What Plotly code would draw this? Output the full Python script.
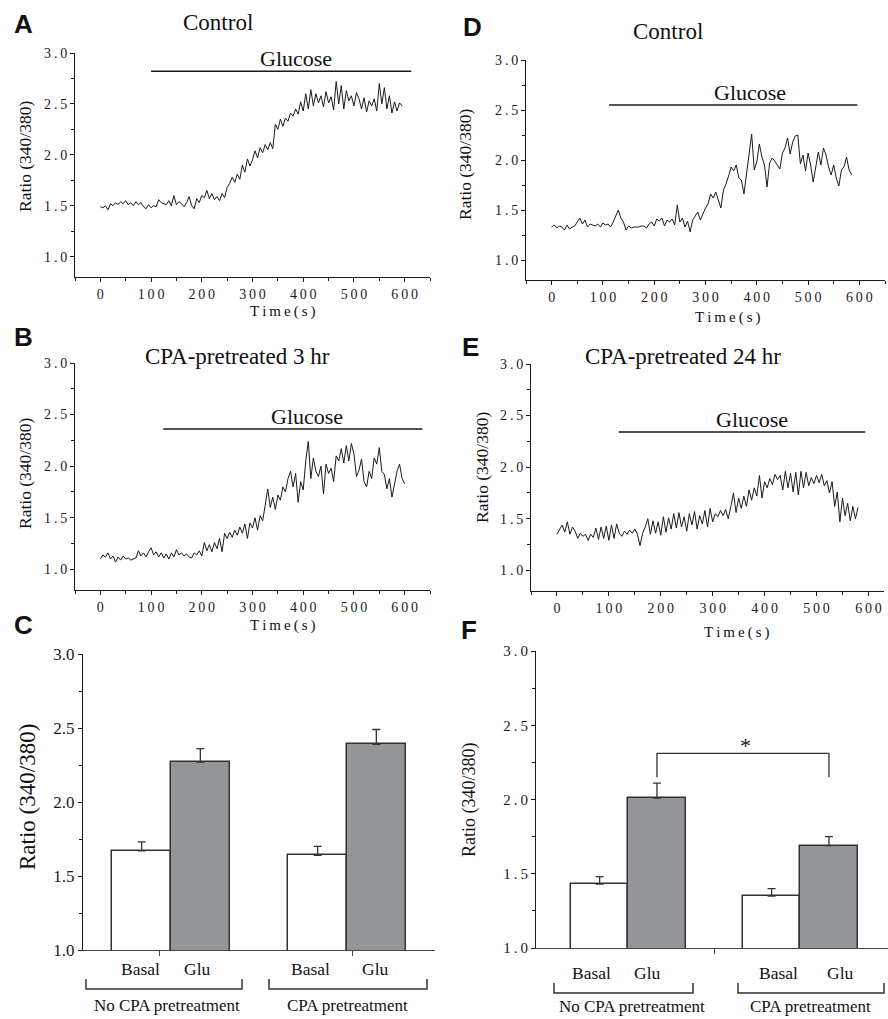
import plotly.graph_objects as go

W, H = 888, 1019

# ---------------- data ----------------
SAMPLE_STEP = 5  # seconds between plotted samples

ratio_A = [1.49, 1.48, 1.50, 1.46, 1.52, 1.50, 1.53, 1.51, 1.54, 1.52,
           1.55, 1.51, 1.53, 1.50, 1.54, 1.51, 1.53, 1.49, 1.47, 1.51,
           1.48, 1.50, 1.49, 1.56, 1.53, 1.52, 1.51, 1.55, 1.50, 1.60,
           1.51, 1.54, 1.52, 1.49, 1.53, 1.59, 1.50, 1.47, 1.57, 1.53,
           1.60, 1.58, 1.65, 1.57, 1.62, 1.56, 1.59, 1.55, 1.62, 1.58,
           1.68, 1.72, 1.78, 1.73, 1.81, 1.76, 1.90, 1.83, 1.96, 1.89,
           1.95, 2.04, 1.97, 2.07, 2.02, 2.10, 2.05, 2.12, 2.06, 2.30,
           2.25, 2.35, 2.28, 2.36, 2.33, 2.41, 2.38, 2.45, 2.40, 2.52,
           2.43, 2.60, 2.45, 2.64, 2.48, 2.60, 2.51, 2.58, 2.47, 2.62,
           2.51, 2.57, 2.44, 2.72, 2.50, 2.68, 2.45, 2.63, 2.53, 2.58,
           2.48, 2.61, 2.55, 2.45, 2.56, 2.42, 2.53, 2.48, 2.55, 2.43,
           2.70, 2.50, 2.66, 2.45, 2.58, 2.41, 2.52, 2.43, 2.51, 2.48]

ratio_B = [1.10, 1.14, 1.12, 1.16, 1.10, 1.13, 1.07, 1.12, 1.09, 1.13,
           1.10, 1.11, 1.09, 1.10, 1.11, 1.18, 1.13, 1.16, 1.12, 1.17,
           1.21, 1.14, 1.17, 1.12, 1.16, 1.11, 1.15, 1.10, 1.16, 1.12,
           1.19, 1.14, 1.16, 1.13, 1.15, 1.12, 1.11, 1.16, 1.14, 1.18,
           1.13, 1.26, 1.18, 1.24, 1.17, 1.26, 1.20, 1.30, 1.17, 1.35,
           1.30, 1.36, 1.31, 1.38, 1.33, 1.41, 1.35, 1.44, 1.30, 1.45,
           1.40, 1.50, 1.38, 1.52, 1.47, 1.62, 1.78, 1.60, 1.70, 1.58,
           1.72, 1.67, 1.80, 1.75, 1.88, 1.95, 1.80, 1.93, 1.65, 1.85,
           1.77, 2.05, 2.24, 1.88, 2.08, 1.95, 1.90, 2.00, 1.73, 2.02,
           1.93, 1.98, 1.85, 2.10, 2.05, 2.17, 2.03, 2.20, 2.05, 2.22,
           2.12, 1.90, 1.96, 2.07, 1.85, 1.80, 1.95, 1.88, 2.08, 2.02,
           2.18, 1.95, 1.92, 1.78, 1.88, 1.70, 1.82, 1.95, 2.02, 1.88,
           1.83]

ratio_D = [1.33, 1.35, 1.32, 1.34, 1.33, 1.30, 1.35, 1.31, 1.33, 1.34,
           1.38, 1.42, 1.36, 1.40, 1.33, 1.36, 1.35, 1.34, 1.36, 1.33,
           1.37, 1.35, 1.36, 1.33, 1.38, 1.44, 1.50, 1.42, 1.38, 1.30,
           1.34, 1.32, 1.33, 1.33, 1.33, 1.34, 1.34, 1.32, 1.36, 1.38,
           1.34, 1.41, 1.39, 1.42, 1.34, 1.40, 1.38, 1.41, 1.35, 1.55,
           1.38, 1.42, 1.33, 1.39, 1.28, 1.40, 1.44, 1.48, 1.40, 1.46,
           1.52, 1.56, 1.66, 1.62, 1.68, 1.60, 1.52, 1.70, 1.76, 1.84,
           1.93, 1.89, 1.95, 1.82, 1.80, 1.66, 1.85, 2.05, 2.26, 1.90,
           1.98, 2.16, 2.03, 1.95, 1.73, 1.97, 2.02, 1.99, 1.95, 1.91,
           2.07, 2.12, 2.22, 2.06, 2.18, 2.24, 2.25, 1.96, 2.05, 1.89,
           2.07, 1.95, 1.78, 1.95, 2.08, 1.95, 2.12, 2.05, 1.93, 1.85,
           1.95, 1.82, 1.74, 1.90, 1.93, 2.03, 1.90, 1.85]

ratio_E = [1.35, 1.40, 1.44, 1.37, 1.47, 1.35, 1.42, 1.38, 1.31, 1.36,
           1.33, 1.35, 1.29, 1.35, 1.32, 1.41, 1.30, 1.42, 1.31, 1.43,
           1.29, 1.44, 1.31, 1.45, 1.36, 1.33, 1.38, 1.35, 1.39, 1.36,
           1.40, 1.35, 1.24, 1.36, 1.42, 1.50, 1.35, 1.48, 1.36, 1.47,
           1.34, 1.52, 1.37, 1.51, 1.40, 1.55, 1.41, 1.56, 1.42, 1.52,
           1.38, 1.55, 1.44, 1.57, 1.40, 1.53, 1.45, 1.58, 1.42, 1.60,
           1.47, 1.55, 1.52, 1.58, 1.53, 1.59, 1.50, 1.62, 1.75, 1.56,
           1.70, 1.60, 1.72, 1.62, 1.78, 1.68, 1.80, 1.72, 1.92, 1.70,
           1.86, 1.80, 1.89, 1.83, 1.93, 1.88, 1.92, 1.78, 1.96, 1.80,
           1.94, 1.76, 1.95, 1.73, 1.96, 1.80, 1.95, 1.82, 1.90, 1.84,
           1.92, 1.85, 1.93, 1.82, 1.87, 1.75, 1.86, 1.62, 1.76, 1.47,
           1.70, 1.53, 1.65, 1.48, 1.62, 1.50, 1.61]

glucose_period = {"A": (100, 613), "B": (124, 635), "D": (112, 596), "E": (119, 594)}
glucose_bar_level = {"A": 2.82, "B": 2.36, "D": 2.55, "E": 2.34}

conditions = ["Basal", "Glu"]
groups = ["No CPA pretreatment", "CPA pretreatment"]
C_basal = [1.67, 1.64]
C_basal_err = [0.06, 0.06]
C_glu = [2.27, 2.39]
C_glu_err = [0.09, 0.10]
F_basal = [1.43, 1.35]
F_basal_err = [0.05, 0.05]
F_glu = [2.01, 1.69]
F_glu_err = [0.10, 0.06]

time_ticks = [0, 100, 200, 300, 400, 500, 600]
ratio_ticks = [1.0, 1.5, 2.0, 2.5, 3.0]

# ---------------- style helpers ----------------
INK = "#1a1a1a"
SERIF = "Liberation Serif, Times New Roman, serif"
SANS = "Liberation Sans, Arial, sans-serif"
TS = "\u2009"


def spaced(s):
    return TS.join(list(s))


def px(x):
    return x / W


def py(y):
    return 1 - y / H


def dom_x(a, b):
    return [px(a), px(b)]


def dom_y(top, bottom):
    return [py(bottom), py(top)]


fig = go.Figure()

# ---------------- line panels ----------------
line_panels = [
    ("A", ratio_A, "x", "y"),
    ("B", ratio_B, "x2", "y2"),
    ("D", ratio_D, "x4", "y4"),
    ("E", ratio_E, "x5", "y5"),
]
for key, vals, xa, ya in line_panels:
    t = [i * SAMPLE_STEP for i in range(len(vals))]
    fig.add_trace(go.Scatter(x=t, y=vals, mode="lines", xaxis=xa, yaxis=ya,
                             line=dict(color=INK, width=1), showlegend=False,
                             hoverinfo="skip"))
    t0, t1 = glucose_period[key]
    lvl = glucose_bar_level[key]
    fig.add_shape(type="line", xref=xa, yref=ya, x0=t0, x1=t1, y0=lvl, y1=lvl,
                  line=dict(color=INK, width=1.5))


def line_axes(xdom, ydom, anchor_y, anchor_x, xr):
    xa = dict(domain=xdom, range=xr, anchor=anchor_y, showline=True, linecolor=INK,
              linewidth=1, ticks="outside", ticklen=4, tickwidth=1, tickcolor=INK,
              tickmode="array", tickvals=time_ticks,
              ticktext=[spaced(str(v)) for v in time_ticks],
              minor=dict(tickmode="array", tickvals=[-50, 50, 150, 250, 350, 450, 550, 650],
                         ticks="outside", ticklen=3, tickcolor=INK),
              showgrid=False, zeroline=False, automargin=False,
              tickfont=dict(family=SERIF, size=14, color=INK), fixedrange=True)
    ya = dict(domain=ydom, range=[0.8, 3.0], anchor=anchor_x, showline=True, linecolor=INK,
              linewidth=1, ticks="outside", ticklen=4, tickwidth=1, tickcolor=INK,
              tickmode="array", tickvals=ratio_ticks,
              ticktext=[spaced(f"{v:.1f}") for v in ratio_ticks],
              minor=dict(tickmode="array", tickvals=[1.25, 1.75, 2.25, 2.75],
                         ticks="outside", ticklen=3, tickcolor=INK),
              showgrid=False, zeroline=False, automargin=False,
              tickfont=dict(family=SERIF, size=14, color=INK), fixedrange=True)
    return xa, ya


xA, yA = line_axes(dom_x(75, 430), dom_y(53, 277), "y", "x", [-50, 650])
xB, yB = line_axes(dom_x(75, 430), dom_y(363, 590), "y2", "x2", [-50, 650])
xD, yD = line_axes(dom_x(526, 885), dom_y(60, 280), "y4", "x4", [-50, 650])
xE, yE = line_axes(dom_x(531, 884), dom_y(364, 591), "y5", "x5", [-50, 630])

# ---------------- bar panels ----------------
def bar_x(group_idx, cond_idx):
    return group_idx * 3 + cond_idx + 1


for (basal, berr, glu, gerr, xa, ya) in [
        (C_basal, C_basal_err, C_glu, C_glu_err, "x3", "y3"),
        (F_basal, F_basal_err, F_glu, F_glu_err, "x6", "y6")]:
    fig.add_trace(go.Bar(
        x=[bar_x(g, 0) for g in range(len(groups))], y=basal, width=1.0,
        xaxis=xa, yaxis=ya, name=conditions[0], showlegend=False,
        marker=dict(color="white", line=dict(color="#333333", width=1.5)),
        error_y=dict(type="data", array=berr, arrayminus=[0] * len(berr), symmetric=False,
                     color="#333333", thickness=1.3, width=4)))
    fig.add_trace(go.Bar(
        x=[bar_x(g, 1) for g in range(len(groups))], y=glu, width=1.0,
        xaxis=xa, yaxis=ya, name=conditions[1], showlegend=False,
        marker=dict(color="#939598", line=dict(color="#333333", width=1.5)),
        error_y=dict(type="data", array=gerr, arrayminus=[0] * len(gerr), symmetric=False,
                     color="#333333", thickness=1.3, width=4)))


def bar_axes(xdom, ydom, anchor_y, anchor_x, xr, cat_ticks, tick_size, spaced_ticks):
    xa = dict(domain=xdom, range=xr, anchor=anchor_y, showline=True, linecolor="#444444",
              linewidth=1, ticks="outside", ticklen=5, tickcolor="#444444",
              tickmode="array", tickvals=cat_ticks, ticktext=[""] * len(cat_ticks),
              showgrid=False, zeroline=False, fixedrange=True, automargin=False)
    txt = [spaced(f"{v:.1f}") if spaced_ticks else f"{v:.1f}" for v in ratio_ticks]
    ya = dict(domain=ydom, range=[1.0, 3.0], anchor=anchor_x, showline=True,
              linecolor=INK, linewidth=1, ticks="outside", ticklen=4, tickcolor=INK,
              tickmode="array", tickvals=ratio_ticks, ticktext=txt,
              minor=dict(tickmode="array", tickvals=[1.25, 1.75, 2.25, 2.75],
                         ticks="outside", ticklen=3, tickcolor=INK),
              showgrid=False, zeroline=False, automargin=False,
              tickfont=dict(family=SERIF, size=tick_size, color=INK), fixedrange=True)
    return xa, ya


xC, yC = bar_axes(dom_x(83, 435), dom_y(654, 950), "y3", "x3", [0, 6], [1.3, 4.6], 17, False)
xF, yF = bar_axes(dom_x(536, 888), dom_y(651, 948), "y6", "x6", [-0.11, 6.03], [3.0], 15, True)

# significance bracket in F (between the two Glu bars)
sig_lo, sig_hi = 2.15, 2.31
xa_g1, xa_g2 = bar_x(0, 1), bar_x(1, 1)
fig.add_shape(type="path", xref="x6", yref="y6",
              path=f"M {xa_g1},{sig_lo} L {xa_g1},{sig_hi} L {xa_g2},{sig_hi} L {xa_g2},{sig_lo}",
              line=dict(color="#333333", width=1.3))

# ---------------- annotations ----------------
ann = []


def text(x, y, s, size, family=SERIF, angle=0, bold=False, xanchor="center", yanchor="middle"):
    ann.append(dict(x=px(x), y=py(y), xref="paper", yref="paper", text=(f"<b>{s}</b>" if bold else s),
                    showarrow=False, textangle=angle, xanchor=xanchor, yanchor=yanchor,
                    font=dict(family=family, size=size, color="#111111")))


# panel letters
for letter, (lx, ly) in {"A": (23, 24), "B": (23, 337), "C": (23, 625),
                         "D": (472, 27), "E": (471, 347), "F": (469, 630)}.items():
    text(lx, ly, letter, 26, family=SANS, bold=True)

# panel titles
text(218, 23, "Control", 23)
text(237, 357, "CPA-pretreated 3 hr", 23)
text(668, 32, "Control", 23)
text(683, 357, "CPA-pretreated 24 hr", 23)

# Glucose labels (data coords)
for xa, ya, xpos, key in [("x", "y", 385, "A"), ("x2", "y2", 407, "B"),
                          ("x4", "y4", 387, "D"), ("x5", "y5", 376, "E")]:
    ann.append(dict(x=xpos, y=glucose_bar_level[key], xref=xa, yref=ya, text="Glucose",
                    showarrow=False, xanchor="center", yanchor="bottom", yshift=-2,
                    font=dict(family=SERIF, size=22, color="#111111")))

# axis titles
for x, y in [(283, 312), (283, 625), (728, 317), (737, 632)]:
    text(x, y, spaced("Time(s)"), 15)
for x, y in [(25, 157), (25, 474), (465, 165), (482, 468)]:
    text(x, y, "Ratio (340/380)", 17.5, angle=-90)
text(27, 797, "Ratio (340/380)", 23, angle=-90)
text(469, 800, "Ratio (340/380)", 18, angle=-90)

# bar labels
for x, y, s in [(140, 969, "Basal"), (197, 969, "Glu"), (310, 969, "Basal"), (375, 969, "Glu"),
                (591, 973, "Basal"), (647, 973, "Glu"), (778, 973, "Basal"), (840, 973, "Glu")]:
    text(x, y, s, 17.5)
for x, y, s in [(167, 1005, groups[0]), (347, 1005, groups[1]),
                (632, 1006, groups[0]), (810, 1006, groups[1])]:
    text(x, y, s, 17)

text(745, 745, "*", 22)

# group brackets
for x0, x1, ytop, ybot in [(86, 242, 979, 989), (269, 427, 979, 989),
                           (554, 693, 983, 993), (738, 884, 983, 993)]:
    fig.add_shape(type="path", xref="paper", yref="paper",
                  path=f"M {px(x0)},{py(ytop)} L {px(x0)},{py(ybot)} L {px(x1)},{py(ybot)} L {px(x1)},{py(ytop)}",
                  line=dict(color="#333333", width=1.5))

fig.update_layout(
    width=W, height=H, margin=dict(l=0, r=0, t=0, b=0, pad=0, autoexpand=False),
    paper_bgcolor="white", plot_bgcolor="white", showlegend=False,
    barmode="overlay", bargap=0,
    xaxis=xA, yaxis=yA, xaxis2=xB, yaxis2=yB, xaxis3=xC, yaxis3=yC,
    xaxis4=xD, yaxis4=yD, xaxis5=xE, yaxis5=yE, xaxis6=xF, yaxis6=yF,
    annotations=ann,
)

fig.write_html("out.html")
